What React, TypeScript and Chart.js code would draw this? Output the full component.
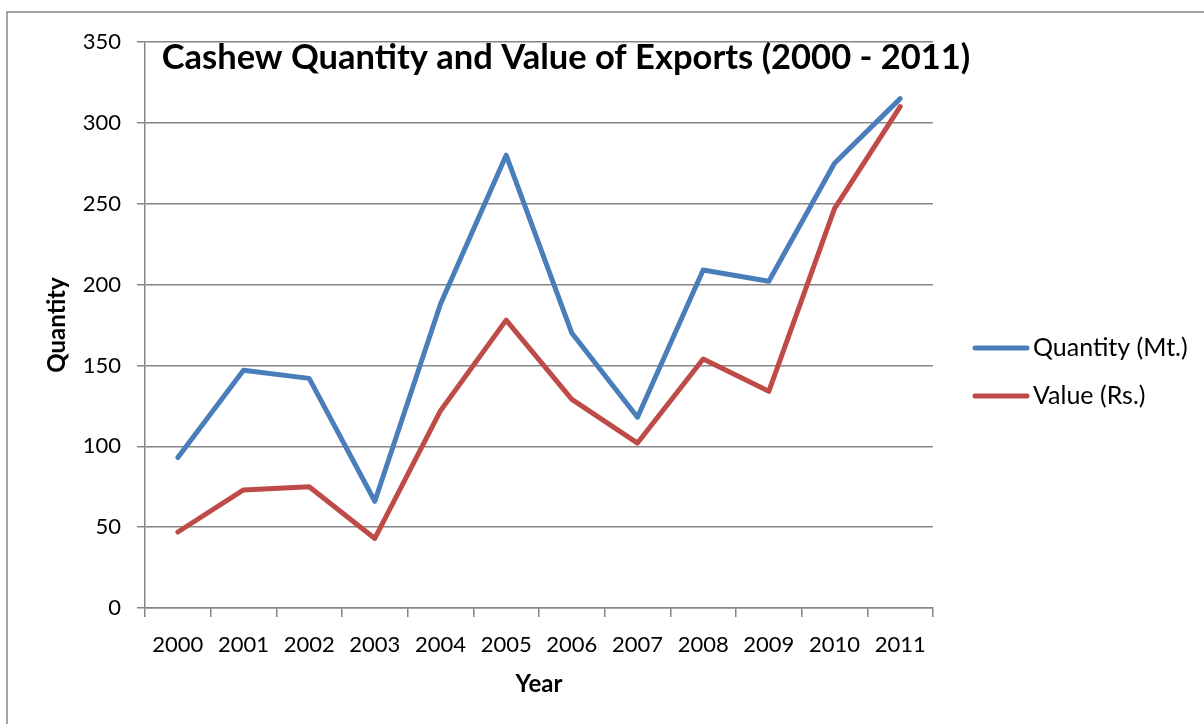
import React, { useEffect, useRef } from "react";
import { Chart, registerables } from "chart.js";

Chart.register(...registerables);

const years = ["2000", "2001", "2002", "2003", "2004", "2005", "2006", "2007", "2008", "2009", "2010", "2011"];
const quantity = [93, 147, 142, 66, 188, 280, 170, 118, 209, 202, 275, 315];
const value = [47, 73, 75, 43, 122, 178, 129, 102, 154, 134, 247, 310];
const seriesNames = ["Quantity (Mt.)", "Value (Rs.)"];
const seriesColors = ["#4A7EBB", "#BE4B48"];
const chartTitle = "Cashew Quantity and Value of Exports (2000 - 2011)";
const xTitle = "Year";
const yTitle = "Quantity";
const yMin = 0;
const yMax = 350;
const yStep = 50;

const FONT = "Lato, 'Open Sans', sans-serif";
const GRID = "#868686";

const decorPlugin = {
  id: "decor",
  beforeDraw(chart: any) {
    const ctx = chart.ctx;
    ctx.save();
    ctx.fillStyle = "#ffffff";
    ctx.fillRect(0, 0, chart.width, chart.height);
    ctx.strokeStyle = GRID;
    ctx.lineWidth = 1.5;
    ctx.strokeRect(7, 12, chart.width + 20, chart.height + 20);
    ctx.restore();
  },
  afterDraw(chart: any) {
    const ctx = chart.ctx;
    ctx.save();
    // title
    ctx.fillStyle = "#000000";
    ctx.font = `bold 34.5px ${FONT}`;
    ctx.textAlign = "center";
    ctx.textBaseline = "alphabetic";
    ctx.fillText(chartTitle, 566, 69);
    // legend
    const rows = [348, 396];
    chart.data.datasets.forEach((ds: any, i: number) => {
      const y = rows[i];
      ctx.strokeStyle = ds.borderColor;
      ctx.lineWidth = 5;
      ctx.lineCap = "round";
      ctx.beginPath();
      ctx.moveTo(975, y);
      ctx.lineTo(1027, y);
      ctx.stroke();
      ctx.fillStyle = "#000000";
      ctx.font = `25px ${FONT}`;
      ctx.textAlign = "left";
      ctx.textBaseline = "middle";
      ctx.fillText(ds.label, 1033, y);
    });
    ctx.restore();
  },
};

export default function App() {
  const ref = useRef<HTMLCanvasElement | null>(null);

  useEffect(() => {
    if (!ref.current) return;
    const chart = new Chart(ref.current, {
      type: "line",
      data: {
        labels: years,
        datasets: [
          {
            label: seriesNames[0],
            data: quantity,
            borderColor: seriesColors[0],
            backgroundColor: seriesColors[0],
            borderWidth: 5,
            pointRadius: 0,
            borderJoinStyle: "round",
            borderCapStyle: "round",
            tension: 0,
          },
          {
            label: seriesNames[1],
            data: value,
            borderColor: seriesColors[1],
            backgroundColor: seriesColors[1],
            borderWidth: 5,
            pointRadius: 0,
            borderJoinStyle: "round",
            borderCapStyle: "round",
            tension: 0,
          },
        ],
      },
      options: {
        responsive: false,
        animation: false,
        layout: { padding: { top: 42, right: 271, left: 0, bottom: 0 } },
        plugins: {
          legend: { display: false },
          title: { display: false },
          tooltip: { enabled: false },
        },
        scales: {
          x: {
            offset: true,
            grid: {
              offset: true,
              drawOnChartArea: false,
              drawTicks: true,
              tickLength: 9,
              color: GRID,
              lineWidth: 1.5,
            },
            border: { color: GRID, width: 1.5 },
            ticks: { color: "#000", font: { family: FONT, size: 22 }, padding: 15, maxRotation: 0 },
            title: {
              display: true,
              text: xTitle,
              color: "#000",
              font: { family: FONT, size: 24, weight: "bold" },
              padding: { top: 0, bottom: 25 },
            },
            afterFit: (s: any) => {
              s.height = 116;
            },
          },
          y: {
            min: yMin,
            max: yMax,
            ticks: { stepSize: yStep, color: "#000", font: { family: FONT, size: 22 }, padding: 16 },
            grid: { color: GRID, lineWidth: 1.5, tickLength: 8 },
            border: { color: GRID, width: 1.5 },
            title: {
              display: true,
              text: yTitle,
              color: "#000",
              font: { family: FONT, size: 24, weight: "bold" },
              padding: { top: 43, bottom: 0 },
            },
            afterFit: (s: any) => {
              s.width = 145;
            },
          },
        },
      },
      plugins: [decorPlugin],
    });
    return () => chart.destroy();
  }, []);

  return (
    <div style={{ position: "fixed", left: 0, top: 0, width: 1204, height: 724, background: "#fff" }}>
      <canvas ref={ref} width={1204} height={724} />
    </div>
  );
}
